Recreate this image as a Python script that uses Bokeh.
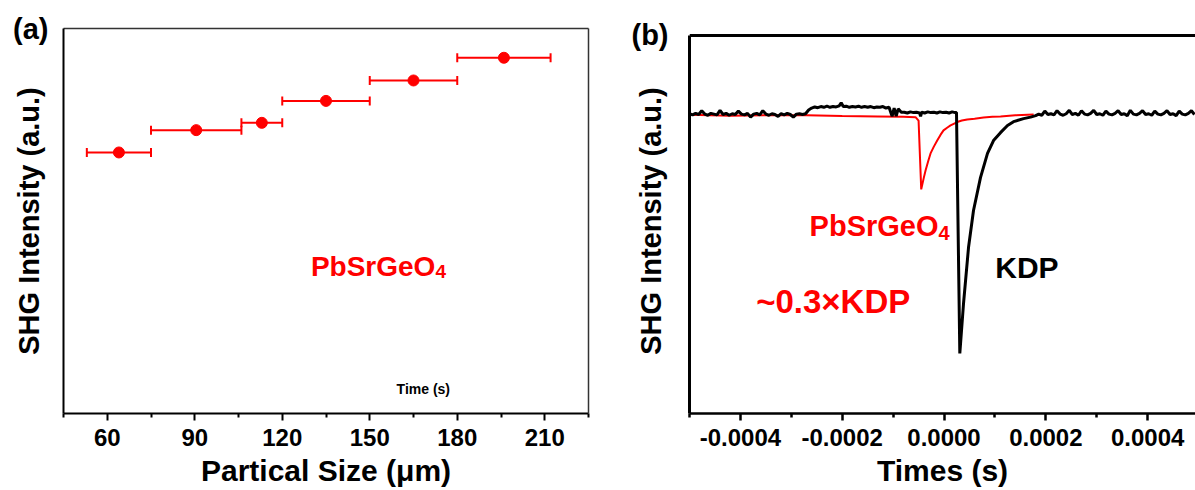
from bokeh.plotting import figure
from bokeh.models import (Range1d, FixedTicker, LinearAxis, Label, Whisker, TeeHead, Span,
                          ColumnDataSource, PrintfTickFormatter)
from bokeh.layouts import row
from bokeh.embed import file_html
from bokeh.resources import INLINE

FONT = "Liberation Sans"

# ---------------- Panel (a) data ----------------
size_center = [64.0, 90.5, 113.0, 135.0, 165.0, 196.0]
size_low = [53.0, 75.0, 106.0, 120.0, 150.0, 180.0]
size_high = [75.0, 106.0, 120.0, 150.0, 180.0, 212.0]
shg_a = [0.678, 0.736, 0.755, 0.812, 0.865, 0.924]
xticks_a = [60, 90, 120, 150, 180, 210]
xminor_a = [45, 75, 105, 135, 165, 195, 225]

# ---------------- Panel (b) data ----------------
# KDP trace (time in microseconds, intensity a.u.)
kdp_t_us = [-500, -494, -488, -482, -476, -470, -464, -458, -452, -446, -440, -434, -428, -422,
            -416, -410, -404, -398, -392, -386, -380, -374, -368, -362, -356, -350, -344, -338,
            -332, -326, -320, -314, -308, -302, -296, -290, -284, -278, -272,
            -266, -260, -254, -248, -242, -236, -230, -224, -218, -212, -206, -202, -198, -192,
            -186, -180, -174, -168, -162, -156, -150, -144, -138, -132, -126, -120, -114, -108,
            -102, -98, -94, -90, -84,
            -78, -72, -66, -60, -54, -48, -46, -44, -38, -32, -26, -20, -14, -8, -2, 4, 10, 16, 22,
            24.5, 31.0, 38.3, 48.1, 57.9, 71.6, 85.4, 97.2, 110.9, 124.7, 136.5, 156.2, 170, 180,
            186, 192, 198, 204, 210, 216, 222, 228, 234, 240, 246, 252, 258, 264, 270, 276, 282,
            288, 294, 300, 306, 312, 318, 324, 330, 336, 342, 348, 354, 360, 366, 372, 378, 384,
            390, 396, 402, 408, 414, 420, 426, 432, 438, 444, 450, 456, 462, 468, 474, 480, 486,
            492]
kdp_i = [0.793, 0.790, 0.794, 0.791, 0.801, 0.792, 0.789, 0.794, 0.792, 0.790, 0.802, 0.791,
         0.794, 0.789, 0.793, 0.791, 0.800, 0.792, 0.790, 0.794, 0.784, 0.792, 0.794, 0.790,
         0.801, 0.792, 0.789, 0.793, 0.791, 0.786, 0.793, 0.790, 0.794, 0.791, 0.784, 0.792,
         0.793, 0.791, 0.793,
         0.803, 0.808, 0.811, 0.809, 0.812, 0.810, 0.813, 0.810, 0.812, 0.811, 0.814, 0.822,
         0.812, 0.813, 0.810, 0.812, 0.811, 0.813, 0.810, 0.812, 0.810, 0.812, 0.809, 0.811,
         0.810, 0.812, 0.808, 0.810, 0.786, 0.808, 0.787, 0.806, 0.797,
         0.797, 0.795, 0.798, 0.796, 0.797, 0.795, 0.786, 0.797, 0.795, 0.798, 0.796, 0.797,
         0.795, 0.798, 0.796, 0.797, 0.795, 0.798, 0.796,
         0.796, 0.159, 0.291, 0.439, 0.537, 0.624, 0.688, 0.722, 0.743, 0.762, 0.772, 0.780,
         0.784, 0.788,
         0.792, 0.789, 0.800, 0.791, 0.793, 0.790, 0.801, 0.792, 0.789, 0.793, 0.802, 0.791,
         0.794, 0.789, 0.801, 0.792, 0.790, 0.794, 0.802, 0.791, 0.793, 0.789, 0.800, 0.792,
         0.790, 0.794, 0.801, 0.791, 0.793, 0.788, 0.802, 0.792, 0.790, 0.794, 0.801, 0.791,
         0.793, 0.789, 0.800, 0.792, 0.790, 0.794, 0.801, 0.791, 0.793, 0.788, 0.800, 0.792,
         0.790, 0.794, 0.801, 0.791]
# PbSrGeO4 trace
psg_t_us = [-500, -420, -340, -270, -200, -130, -80, -56, -50, -44.8, -40, -36.3, -31, -26.5,
            -20, -13.4, -7, -1, 6, 12.8, 20, 25.9, 35, 45.6, 60, 77.6, 95, 111, 140, 176]
psg_i = [0.790, 0.788, 0.789, 0.789, 0.787, 0.786, 0.785, 0.784, 0.775, 0.593, 0.622, 0.643,
         0.668, 0.688, 0.706, 0.722, 0.737, 0.749, 0.756, 0.762, 0.767, 0.771, 0.775, 0.778,
         0.780, 0.783, 0.785, 0.786, 0.789, 0.791]
xticks_b = [-0.0004, -0.0002, 0.0, 0.0002, 0.0004]
xminor_b = [-0.0005, -0.0003, -0.0001, 0.0001, 0.0003]

kdp_t = [v * 1e-6 for v in kdp_t_us]
psg_t = [v * 1e-6 for v in psg_t_us]


def style_bottom(ax, ticks, minor, lw):
    ax.ticker = FixedTicker(ticks=ticks, minor_ticks=minor)
    ax.axis_line_width = lw
    ax.axis_line_color = "black"
    ax.major_tick_line_width = lw
    ax.minor_tick_line_width = lw
    ax.major_tick_line_color = "black"
    ax.minor_tick_line_color = "black"
    ax.major_tick_out = 7
    ax.major_tick_in = 0
    ax.minor_tick_out = 4
    ax.minor_tick_in = 0
    ax.major_label_text_font = FONT
    ax.major_label_text_font_style = "bold"
    ax.major_label_text_font_size = "24px"
    ax.major_label_text_color = "black"
    ax.major_label_standoff = 8
    ax.axis_label_text_font = FONT
    ax.axis_label_text_font_style = "bold"
    ax.axis_label_text_font_size = "30px"
    ax.axis_label_text_color = "black"
    ax.axis_label_standoff = 5


def style_left(ax, lw, panel_tag, tag_standoff, label_standoff):
    # single tick at the top of the frame carries the panel tag, e.g. "(a)"
    ax.ticker = FixedTicker(ticks=[1.0])
    ax.major_label_overrides = {1.0: panel_tag}
    ax.major_label_text_font = FONT
    ax.major_label_text_font_style = "bold"
    ax.major_label_text_font_size = "29px"
    ax.major_label_text_color = "black"
    ax.major_label_standoff = tag_standoff
    ax.axis_line_width = lw
    ax.axis_line_color = "black"
    ax.major_tick_line_color = None
    ax.minor_tick_line_color = None
    ax.major_tick_out = 0
    ax.major_tick_in = 0
    ax.minor_tick_out = 0
    ax.minor_tick_in = 0
    ax.axis_label_text_font = FONT
    ax.axis_label_text_font_style = "bold"
    ax.axis_label_text_font_size = "29px"
    ax.axis_label_text_color = "black"
    ax.axis_label_standoff = label_standoff


def frame_axis(color, lw):
    return LinearAxis(ticker=FixedTicker(ticks=[]), axis_line_color=color, axis_line_width=lw,
                      major_tick_line_color=None, minor_tick_line_color=None,
                      major_tick_out=0, minor_tick_out=0, major_label_standoff=0,
                      axis_label_standoff=0)


# ---------------- Figure (a) ----------------
pa = figure(width=600, height=490, x_range=Range1d(45, 225), y_range=Range1d(0, 1),
            min_border_left=63, min_border_right=12, min_border_top=28, min_border_bottom=77,
            output_backend="svg", toolbar_location=None, outline_line_color=None)
pa.grid.visible = False
style_bottom(pa.xaxis[0], xticks_a, xminor_a, 2)
pa.xaxis[0].axis_label = "Partical Size (μm)"
style_left(pa.yaxis[0], 2, "(a)", 15, -35)
pa.yaxis[0].axis_label = "SHG Intensity (a.u.)"
pa.add_layout(frame_axis("#333333", 1.5), "above")
pa.add_layout(frame_axis("#333333", 1.5), "right")

src_a = ColumnDataSource(dict(x=size_center, y=shg_a, lo=size_low, hi=size_high))
pa.add_layout(Whisker(source=src_a, base="y", lower="lo", upper="hi", dimension="width",
                      line_color="red", line_width=2,
                      lower_head=TeeHead(size=9, line_color="red", line_width=2),
                      upper_head=TeeHead(size=9, line_color="red", line_width=2)))
pa.scatter("x", "y", source=src_a, size=11, color="red")

pa.add_layout(Label(x=172.5, y=0.383, text="PbSrGeO", text_align="right",
                    text_baseline="alphabetic", text_font=FONT, text_font_style="bold",
                    text_font_size="28px", text_color="red"))
pa.add_layout(Label(x=172.5, y=0.369, text="4", text_align="left",
                    text_baseline="alphabetic", text_font=FONT, text_font_style="bold",
                    text_font_size="19px", text_color="red"))
pa.add_layout(Label(x=159.2, y=0.063, text="Time (s)", text_align="left",
                    text_baseline="alphabetic", text_font=FONT, text_font_style="bold",
                    text_font_size="14px", text_color="black"))

# ---------------- Figure (b) ----------------
# frame top shared with panel (a) in the row; the drawn top edge sits at intensity 1.0
pb = figure(width=595, height=490, x_range=Range1d(-0.0005, 0.000494),
            y_range=Range1d(0, 1.0185),
            min_border_left=89, min_border_right=0, min_border_top=28, min_border_bottom=77,
            output_backend="svg", toolbar_location=None, outline_line_color=None)
pb.grid.visible = False
style_bottom(pb.xaxis[0], xticks_b, xminor_b, 2.5)
pb.xaxis[0].formatter = PrintfTickFormatter(format="%.4f")
pb.xaxis[0].axis_label = "Times (s)"
style_left(pb.yaxis[0], 3, "(b)", 21, -39)
pb.yaxis[0].bounds = (0, 1.0)
pb.yaxis[0].axis_label = "SHG Intensity (a.u.)"
pb.add_layout(Span(location=1.0, dimension="width", line_color="black", line_width=3))

pb.line(psg_t, psg_i, line_color="red", line_width=2)
pb.line(kdp_t, kdp_i, line_color="black", line_width=3)

pb.add_layout(Label(x=-10.8e-6, y=0.495, text="PbSrGeO", text_align="right",
                    text_baseline="alphabetic", text_font=FONT, text_font_style="bold",
                    text_font_size="29px", text_color="red"))
pb.add_layout(Label(x=-10.8e-6, y=0.477, text="4", text_align="left",
                    text_baseline="alphabetic", text_font=FONT, text_font_style="bold",
                    text_font_size="20px", text_color="red"))
pb.add_layout(Label(x=-369e-6, y=0.297, text="~0.3×KDP", text_align="left",
                    text_baseline="alphabetic", text_font=FONT, text_font_style="bold",
                    text_font_size="33px", text_color="red"))
pb.add_layout(Label(x=100.6e-6, y=0.385, text="KDP", text_align="left",
                    text_baseline="alphabetic", text_font=FONT, text_font_style="bold",
                    text_font_size="30px", text_color="black"))

layout = row(pa, pb)
open("out.html", "w").write(file_html(layout, INLINE))
